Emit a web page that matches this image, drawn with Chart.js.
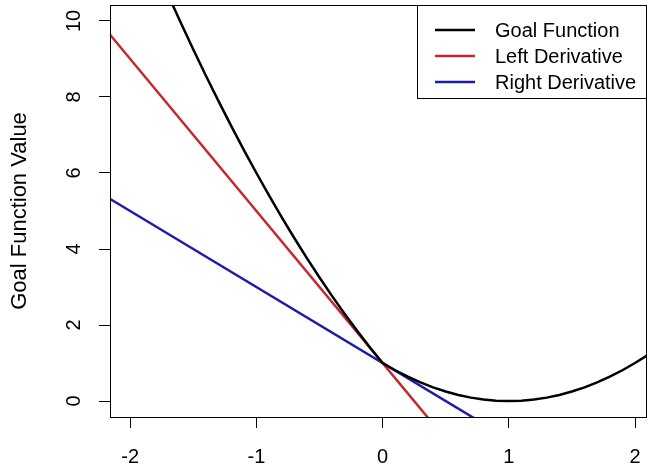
<!DOCTYPE html>
<html>
<head>
<meta charset="utf-8">
<script src="https://cdn.jsdelivr.net/npm/chart.js@4"></script>
<style>
  html, body { margin: 0; padding: 0; background: #fff; }
  canvas { display: block; }
</style>
</head>
<body>
<canvas id="chart" width="649" height="471"></canvas>
<script>
// values
const goalX = [-1.8, -1.7, -1.6, -1.5, -1.4, -1.3, -1.2, -1.1, -1.0, -0.9, -0.8, -0.7, -0.6, -0.5, -0.4, -0.3, -0.2, -0.1,
  0, 0.1, 0.2, 0.3, 0.4, 0.5, 0.6, 0.7, 0.8, 0.9, 1.0, 1.1, 1.2, 1.3, 1.4, 1.5, 1.6, 1.7, 1.8, 1.9, 2.0, 2.1, 2.2];
const goalY = [11.44, 10.69, 9.96, 9.25, 8.56, 7.89, 7.24, 6.61, 6.00, 5.41, 4.84, 4.29, 3.76, 3.25, 2.76, 2.29, 1.84, 1.41,
  1.00, 0.81, 0.64, 0.49, 0.36, 0.25, 0.16, 0.09, 0.04, 0.01, 0, 0.01, 0.04, 0.09, 0.16, 0.25, 0.36, 0.49, 0.64, 0.81, 1.00, 1.21, 1.44];
const leftX = [-2.2, 0.4];
const leftY = [9.8, -0.6];
const rightX = [-2.2, 0.8];
const rightY = [5.4, -0.6];
const xTicks = [-2, -1, 0, 1, 2];
const yTicks = [0, 2, 4, 6, 8, 10];
const seriesNames = ['Goal Function', 'Left Derivative', 'Right Derivative'];

const FONT = "'Liberation Sans', Arial, sans-serif";

function pts(xs, ys) {
  return xs.map((x, i) => ({ x: x, y: ys[i] }));
}

// R style box round the plot and legend in the top right corner
const boxPlugin = {
  id: 'rbox',
  afterDraw(chart) {
    const ctx = chart.ctx;
    const a = chart.chartArea;
    ctx.save();
    ctx.strokeStyle = '#000';
    ctx.lineWidth = 1;
    ctx.strokeRect(a.left + 0.5, a.top + 0.5, a.right - a.left - 1, a.bottom - a.top);

    // legend
    const lx = 417, ly = a.top, lw = a.right - 417, lh = 93;
    ctx.fillStyle = '#fff';
    ctx.fillRect(lx, ly, lw, lh);
    ctx.strokeRect(lx + 0.5, ly + 0.5, lw - 1, lh);
    ctx.font = '20px ' + FONT;
    ctx.textBaseline = 'middle';
    ctx.textAlign = 'left';
    chart.data.datasets.forEach((ds, i) => {
      const y = 30 + i * 26;
      ctx.strokeStyle = ds.borderColor;
      ctx.lineWidth = 2.5;
      ctx.beginPath();
      ctx.moveTo(435, y);
      ctx.lineTo(475, y);
      ctx.stroke();
      ctx.fillStyle = '#000';
      ctx.fillText(ds.label, 495, y + 1);
    });
    ctx.restore();
  }
};

new Chart(document.getElementById('chart'), {
  type: 'scatter',
  data: {
    datasets: [
      { label: seriesNames[0], data: pts(goalX, goalY), borderColor: '#000000' },
      { label: seriesNames[1], data: pts(leftX, leftY), borderColor: '#c4272d' },
      { label: seriesNames[2], data: pts(rightX, rightY), borderColor: '#1c1ca8' }
    ]
  },
  options: {
    responsive: false,
    devicePixelRatio: 1,
    animation: false,
    showLine: true,
    layout: { padding: { top: 5, right: 2, left: 0, bottom: 0 } },
    datasets: {
      scatter: { pointRadius: 0, borderWidth: 2.5, tension: 0, clip: 0 }
    },
    plugins: {
      legend: { display: false },
      tooltip: { enabled: false }
    },
    scales: {
      x: {
        type: 'linear',
        min: -2.16,
        max: 2.095,
        afterBuildTicks(s) { s.ticks = xTicks.map(v => ({ value: v })); },
        afterFit(s) { s.height = 54; s.paddingLeft = 0; s.paddingRight = 0; },
        grid: { drawOnChartArea: false, drawTicks: true, tickLength: 11, color: '#000', tickColor: '#000' },
        border: { display: false },
        ticks: { color: '#000', font: { family: FONT, size: 20 }, padding: 17, maxRotation: 0 }
      },
      y: {
        type: 'linear',
        min: -0.42,
        max: 10.42,
        afterBuildTicks(s) { s.ticks = yTicks.map(v => ({ value: v })); },
        afterFit(s) { s.width = 110; s.paddingTop = 0; s.paddingBottom = 0; },
        grid: { drawOnChartArea: false, drawTicks: true, tickLength: 11, color: '#000', tickColor: '#000' },
        border: { display: false },
        ticks: { color: '#000', font: { family: FONT, size: 20 }, padding: 13, minRotation: 90, maxRotation: 90, crossAlign: 'center' },
        title: { display: true, text: 'Goal Function Value', color: '#000', font: { family: FONT, size: 22 }, padding: { top: 7, bottom: 0 } }
      }
    }
  },
  plugins: [boxPlugin]
});
</script>
</body>
</html>
